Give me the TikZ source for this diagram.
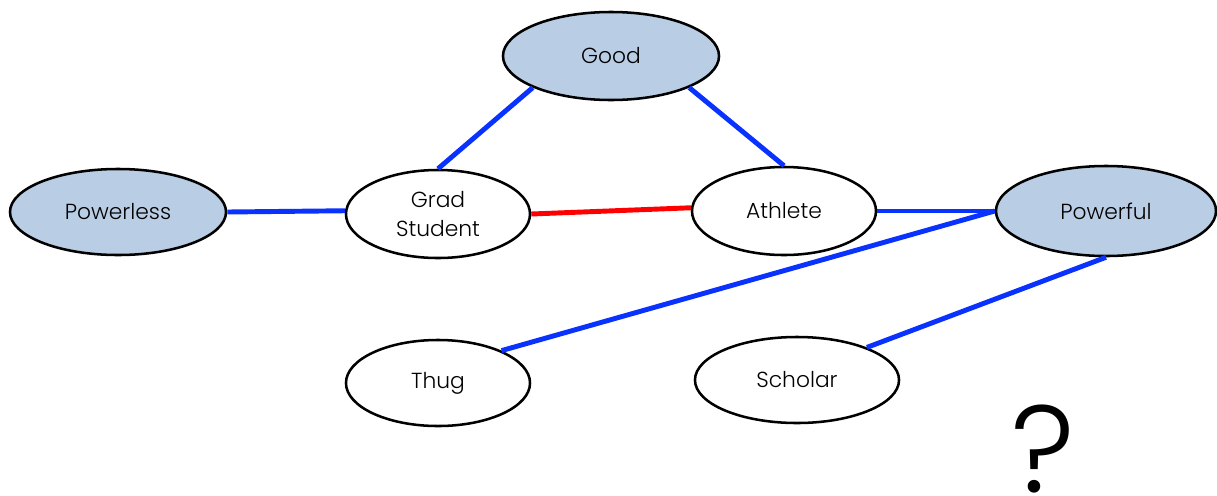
\documentclass[tikz,border=0pt]{standalone}
\usepackage{fontspec}
\setmainfont{Poppins}[UprightFont=* Light]
\usetikzlibrary{shapes.geometric}
\definecolor{linkblue}{RGB}{10,50,255}
\definecolor{linkred}{RGB}{255,0,0}
\definecolor{poleblue}{RGB}{185,205,228}
\tikzset{
  concept/.style={ellipse, draw=black, line width=1.8pt, fill=white, inner sep=0pt,
    align=center, font=\fontsize{15.5}{20}\selectfont},
  pole/.style={concept, fill=poleblue},
  link/.style={line width=3.5pt, linkblue},
  clash/.style={line width=3.5pt, linkred},
}
\begin{document}
\begin{tikzpicture}[x=0.025cm, y=-0.025cm]
  \useasboundingbox (0,0) rectangle (1217,495);

  % poles
  \node[pole, minimum width=5.4cm, minimum height=2.2cm] (good) at (611,56) {Good};
  \node[pole, minimum width=5.4cm, minimum height=2.15cm] (powerless) at (118,212) {Powerless};
  \node[pole, minimum width=5.5cm, minimum height=2.25cm] (powerful) at (1106,211) {Powerful};

  % concepts
  \node[concept, minimum width=4.6cm, minimum height=2.2cm] (grad) at (438,214) {Grad\\Student};
  \node[concept, minimum width=4.6cm, minimum height=2.2cm] (athlete) at (784,211) {Athlete};
  \node[concept, minimum width=4.6cm, minimum height=2.15cm] (thug) at (438,383) {Thug};
  \node[concept, minimum width=5.1cm, minimum height=2.15cm] (scholar) at (797,380) {Scholar};

  % links
  \draw[link] (powerless.east) -- (grad.178);
  \draw[link] (good.202) -- (grad.north);
  \draw[link] (good.338) -- (athlete.north);
  \draw[clash] (grad.east) -- (athlete.178);
  \draw[link] (athlete.east) -- (powerful.west);
  \draw[link] (thug.27) -- (powerful.west);
  \draw[link] (scholar.25) -- (powerful.south);

  % open question
  \node[font=\fontsize{88}{88}\selectfont, inner sep=0pt] (question) at (1043,449) {?};
\end{tikzpicture}
\end{document}
